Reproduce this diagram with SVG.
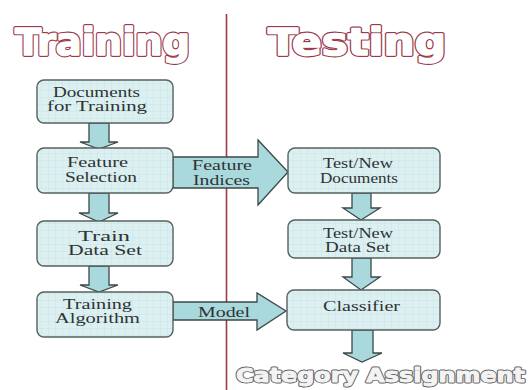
<svg xmlns="http://www.w3.org/2000/svg" width="528" height="390" viewBox="0 0 528 390">
  <defs>
    <!-- faint grid texture used inside the process boxes -->
    <pattern id="grid" width="7" height="7" patternUnits="userSpaceOnUse">
      <rect width="7" height="7" fill="#dcf0f2"/>
      <path d="M7 0V7M0 7H7" fill="none" stroke="#c3dfe3" stroke-width="0.7"/>
    </pattern>
    <style>
      .box { fill: url(#grid); stroke: #55615f; stroke-width: 1.4; }
      .arrow { fill: #a9d9dd; stroke: #3c4747; stroke-width: 1.3; stroke-linejoin: miter; }
      .lbl { font-family: "Liberation Serif", "DejaVu Serif", serif; font-size: 14px; fill: #2f3333; }
      .title { font-family: "DejaVu Sans", "Liberation Sans", sans-serif; font-weight: bold; font-size: 37px; }
      .result { font-family: "DejaVu Sans", "Liberation Sans", sans-serif; font-weight: bold; font-size: 20px; }
      /* heavy outline lettering: a fat coloured stroke under a narrower white one */
      .title-edge { fill: #9b3a4a; stroke: #9b3a4a; stroke-width: 3.8; stroke-linejoin: round; }
      .title-face { fill: #ffffff; stroke: #ffffff; stroke-width: 1.6; stroke-linejoin: round; }
      .result-edge { fill: #606060; stroke: #606060; stroke-width: 2.8; stroke-linejoin: round; }
      .result-face { fill: #f3f3f3; stroke: #f3f3f3; stroke-width: 1.0; stroke-linejoin: round; }
    </style>
  </defs>

  <rect width="528" height="390" fill="#ffffff"/>

  <!-- section headings and divider -->
  <g id="headings">
    <text class="title title-edge" x="15" y="55" textLength="175" lengthAdjust="spacingAndGlyphs">Training</text>
    <text class="title title-face" x="15" y="55" textLength="175" lengthAdjust="spacingAndGlyphs">Training</text>
    <text class="title title-edge" x="268" y="55" textLength="178" lengthAdjust="spacingAndGlyphs">Testing</text>
    <text class="title title-face" x="268" y="55" textLength="178" lengthAdjust="spacingAndGlyphs">Testing</text>
    <line x1="226.5" y1="14" x2="226.5" y2="390" stroke="#9b3a4a" stroke-width="1.6"/>
  </g>

  <!-- connectors: block arrows -->
  <g id="connectors">
    <!-- training column, downward -->
    <path class="arrow" d="M89 123V142H80L99 149L118 142H109V123Z"/>
    <path class="arrow" d="M89 193V213H79L99 222L118 213H109V193Z"/>
    <path class="arrow" d="M89 266V285H80L99 292L118 285H109V266Z"/>
    <!-- feature indices across -->
    <path class="arrow" d="M173 157H258V140L288 172L258 205V188H173Z"/>
    <!-- model across -->
    <path class="arrow" d="M173 302H257V293L286 311L257 330V320H173Z"/>
    <!-- testing column, downward -->
    <path class="arrow" d="M352 193V208H343L361 220L380 208H371V193Z"/>
    <path class="arrow" d="M352 258V277H343L361 290L380 277H371V258Z"/>
    <path class="arrow" d="M352 330V353H343L362 362L382 353H373V330Z"/>
  </g>

  <g id="documents-for-training">
    <rect class="box" x="37" y="80" width="136" height="43" rx="7"/>
    <text class="lbl" x="53" y="97" textLength="87" lengthAdjust="spacingAndGlyphs">Documents</text>
    <text class="lbl" x="47" y="111" textLength="100" lengthAdjust="spacingAndGlyphs">for Training</text>
  </g>

  <g id="feature-selection">
    <rect class="box" x="37" y="148" width="136" height="45" rx="7"/>
    <text class="lbl" x="67" y="167" textLength="61" lengthAdjust="spacingAndGlyphs">Feature</text>
    <text class="lbl" x="65" y="182" textLength="72" lengthAdjust="spacingAndGlyphs">Selection</text>
  </g>

  <g id="train-data-set">
    <rect class="box" x="37" y="221" width="136" height="45" rx="7"/>
    <text class="lbl" x="78" y="241" textLength="52" lengthAdjust="spacingAndGlyphs">Train</text>
    <text class="lbl" x="68" y="255" textLength="74" lengthAdjust="spacingAndGlyphs">Data Set</text>
  </g>

  <g id="training-algorithm">
    <rect class="box" x="37" y="292" width="136" height="45" rx="7"/>
    <text class="lbl" x="63" y="309" textLength="69" lengthAdjust="spacingAndGlyphs">Training</text>
    <text class="lbl" x="55" y="323" textLength="85" lengthAdjust="spacingAndGlyphs">Algorithm</text>
  </g>

  <g id="feature-indices-label">
    <text class="lbl" x="192" y="170" textLength="60" lengthAdjust="spacingAndGlyphs">Feature</text>
    <text class="lbl" x="193" y="185" textLength="57" lengthAdjust="spacingAndGlyphs">Indices</text>
  </g>

  <g id="model-label">
    <text class="lbl" x="198" y="317" textLength="52" lengthAdjust="spacingAndGlyphs">Model</text>
  </g>

  <g id="test-new-documents">
    <rect class="box" x="288" y="148" width="152" height="45" rx="7"/>
    <text class="lbl" x="323" y="168" textLength="70" lengthAdjust="spacingAndGlyphs">Test/New</text>
    <text class="lbl" x="320" y="183" textLength="78" lengthAdjust="spacingAndGlyphs">Documents</text>
  </g>

  <g id="test-new-data-set">
    <rect class="box" x="288" y="220" width="152" height="38" rx="7"/>
    <text class="lbl" x="323" y="238" textLength="70" lengthAdjust="spacingAndGlyphs">Test/New</text>
    <text class="lbl" x="325" y="252" textLength="65" lengthAdjust="spacingAndGlyphs">Data Set</text>
  </g>

  <g id="classifier">
    <rect class="box" x="287" y="290" width="153" height="40" rx="7"/>
    <text class="lbl" x="323" y="311" textLength="77" lengthAdjust="spacingAndGlyphs">Classifier</text>
  </g>

  <g id="category-assignment">
    <text class="result result-edge" x="236" y="382" textLength="289" lengthAdjust="spacingAndGlyphs">Category Assignment</text>
    <text class="result result-face" x="236" y="382" textLength="289" lengthAdjust="spacingAndGlyphs">Category Assignment</text>
  </g>
</svg>
